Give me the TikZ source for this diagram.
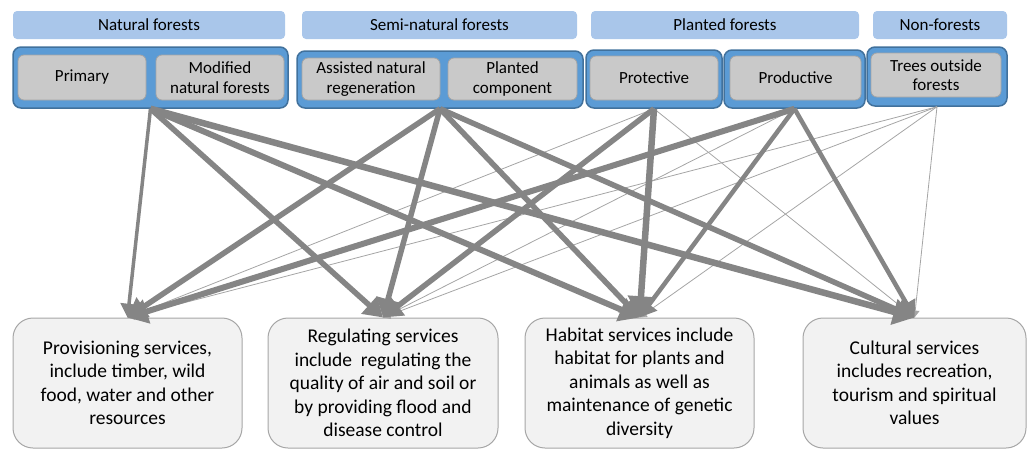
\documentclass[tikz,border=0pt]{standalone}
\usepackage{fontspec}
\setmainfont{Carlito}
\usetikzlibrary{positioning,arrows.meta}

\definecolor{hdrblue}{HTML}{A9C6EA}
\definecolor{grpblue}{HTML}{5B9BD5}
\definecolor{grpedge}{HTML}{41719C}
\definecolor{subgray}{HTML}{C9C9C9}
\definecolor{subedge}{HTML}{A5A5A5}
\definecolor{svcfill}{HTML}{F2F2F2}
\definecolor{svcedge}{HTML}{A6A6A6}
\definecolor{linkgray}{HTML}{858585}
\definecolor{faintgray}{HTML}{A5A5A5}

\tikzset{
  header/.style={fill=hdrblue, rounded corners=4pt, inner sep=0pt, minimum height=28pt, font=\fontsize{17}{19}\selectfont},
  group/.style={fill=grpblue, draw=grpedge, line width=1.5pt, rounded corners=8pt, inner sep=0pt},
  sub/.style={fill=subgray, draw=subedge, line width=0.8pt, rounded corners=6pt, inner sep=0pt, align=center, font=\fontsize{17}{19.5}\selectfont},
  service/.style={fill=svcfill, draw=svcedge, line width=1pt, rounded corners=20pt, inner sep=0pt, minimum height=130pt, align=center, font=\fontsize{19.5}{23.5}\selectfont},
  link/.style={draw=linkgray, -{Triangle[length=5pt 2.5, width=6pt 3]}},
  faint/.style={draw=faintgray, line width=0.8pt, -{Triangle[length=5pt 2.5, width=6pt 3]}},
}

\begin{document}
\begin{tikzpicture}[x=1pt, y=-1pt]
    \useasboundingbox (0,0) rectangle (1027,450);

    % Headers
    \node[header, minimum width=272pt] (hNat) at (149,25) {Natural forests};
    \node[header, minimum width=275pt] (hSemi) at (439.5,25) {Semi-natural forests};
    \node[header, minimum width=268pt] (hPlant) at (725,25) {Planted forests};
    \node[header, minimum width=134pt] (hNon) at (940,25) {Non-forests};

    % Groups
    \node[group, minimum width=275pt, minimum height=61pt] (gNat) at (150.5,77.5) {};
    \node[group, minimum width=286pt, minimum height=57pt] (gSemi) at (440,79.5) {};
    \node[group, minimum width=136pt, minimum height=58pt] (gProt) at (654,79) {};
    \node[group, minimum width=141pt, minimum height=58pt] (gProd) at (794.5,79) {};
    \node[group, minimum width=140pt, minimum height=59pt] (gNon) at (937,76.5) {};

    % Forest types
    \node[sub, minimum width=128pt, minimum height=45pt] (iPrim) at (82,77.5) {Primary};
    \node[sub, minimum width=128pt, minimum height=45pt] (iMod) at (220,77.5) {Modified\\natural forests};
    \node[sub, minimum width=138pt, minimum height=42pt] (iAssist) at (371,79) {Assisted natural\\regeneration};
    \node[sub, minimum width=129pt, minimum height=42pt] (iPlComp) at (512.5,79) {Planted\\component};
    \node[sub, minimum width=128pt, minimum height=44pt] (iProt) at (654,78) {Protective};
    \node[sub, minimum width=131pt, minimum height=44pt] (iProd) at (795.5,78) {Productive};
    \node[sub, minimum width=130pt, minimum height=44pt] (iTrees) at (936,75) {Trees outside\\forests};

    % Services
    \node[service, minimum width=229pt] (sProv) at (127.5,383) {Provisioning services,\\include timber, wild\\food, water and other\\resources};
    \node[service, minimum width=230pt] (sReg) at (383,383) {Regulating services\\include~ regulating the\\quality of air and soil or\\by providing flood and\\disease control};
    \node[service, minimum width=229pt] (sHab) at (639.5,383) {Habitat services include\\habitat for plants and\\animals as well as\\maintenance of genetic\\diversity};
    \node[service, minimum width=223pt] (sCult) at (914.5,383) {Cultural services\\includes recreation,\\tourism and spiritual\\values};

    % Weak links
    \foreach \a/\b in {gProt/sProv, gProt/sCult, gProd/sReg, gNon/sProv, gNon/sReg, gNon/sHab, gNon/sCult}
        \draw[faint] (\a.south) -- (\b.north);

    % Strong links
    \foreach \a/\b/\w in {gNat/sProv/3.5, gNat/sReg/5.5, gNat/sHab/6, gNat/sCult/6.5,
                          gSemi/sProv/5.5, gSemi/sReg/5.5, gSemi/sHab/5.5, gSemi/sCult/5.5,
                          gProt/sReg/5.5, gProt/sHab/6.5,
                          gProd/sProv/6, gProd/sHab/4.5, gProd/sCult/4.5}
        \draw[link, line width=\w pt] (\a.south) -- (\b.north);
\end{tikzpicture}
\end{document}
